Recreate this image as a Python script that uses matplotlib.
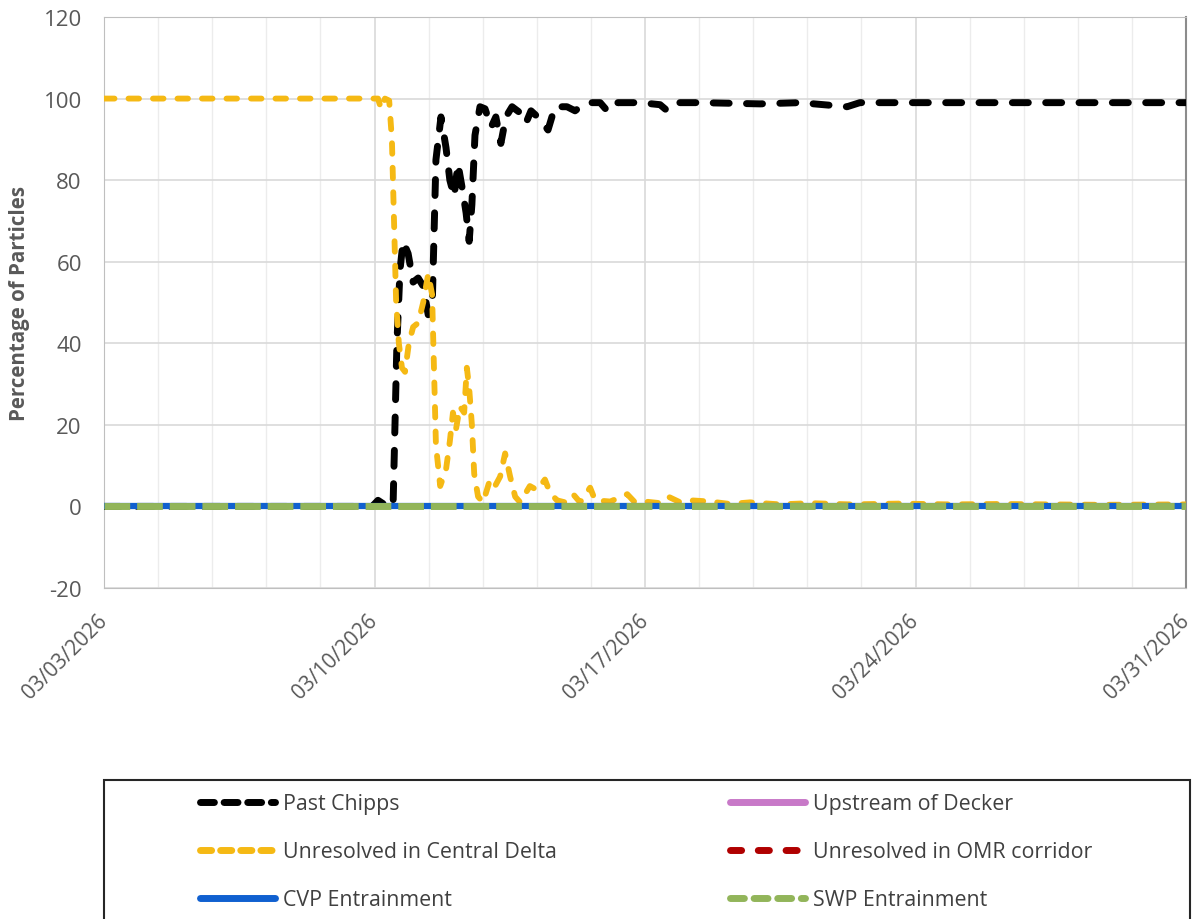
import matplotlib
matplotlib.use('Agg')
import numpy as np
import pandas as pd
import matplotlib.pyplot as plt
import matplotlib.dates as mdates
from matplotlib.lines import Line2D
from matplotlib.patches import Rectangle

plt.rcParams['axes.unicode_minus'] = False

# start of the run and the date labels
start = pd.Timestamp('2026-03-03')
tick_dates = ['2026-03-03', '2026-03-10', '2026-03-17', '2026-03-24', '2026-03-31']

# Past Chipps (day offset from start, percent)
chipps_day = [0, 6.94, 7.09, 7.25, 7.40, 7.48, 7.58, 7.66, 7.74, 7.87, 8.00, 8.13, 8.26,
              8.39, 8.49, 8.59, 8.72, 8.85, 8.95, 9.06, 9.16, 9.27, 9.37, 9.45, 9.52,
              9.60, 9.73, 9.86, 10.02, 10.14, 10.27, 10.40, 10.56, 10.77, 10.92, 11.05,
              11.28, 11.49, 11.67, 11.98, 12.19, 12.40, 12.60, 12.84, 13.04, 13.30,
              13.87, 14.39, 14.54, 14.73, 15.42, 16.98, 18.01, 19.23, 19.56, 28]
chipps_pct = [0, 0, 1.5, 0.5, 0.3, 0, 40, 58, 65, 62, 55, 56, 54,
              47, 48, 85, 95.5, 88, 80, 76, 84, 78, 72, 65, 74,
              91, 98, 97.5, 93, 95.5, 89, 95.5, 98, 96.5, 94, 97,
              95, 92.3, 98, 98, 97, 98.5, 99, 99, 96.8, 99,
              99, 98.5, 97.3, 99, 99, 98.7, 99, 98, 99, 99]

# Unresolved in Central Delta
delta_day = [0, 7.09, 7.17, 7.27, 7.38, 7.45, 7.56, 7.63, 7.71, 7.79, 7.89, 8.00, 8.13,
             8.26, 8.39, 8.49, 8.59, 8.70, 8.85, 8.95, 9.03, 9.11, 9.21, 9.32, 9.39,
             9.45, 9.52, 9.58, 9.68, 9.81, 9.99, 10.12, 10.25, 10.38, 10.51, 10.64,
             10.77, 11.02, 11.21, 11.41, 11.54, 11.72, 11.93, 12.14, 12.32, 12.58,
             12.71, 13.10, 13.54, 13.74, 14.00, 14.39, 14.60, 14.91, 15.17, 15.68,
             16.20, 16.72, 17.49, 18.27, 19.31, 20.60, 21.89, 23.19, 25.78, 28]
delta_pct = [100, 100, 97.5, 100, 99.5, 90, 50, 40, 34, 33, 40, 44, 45,
             50, 57, 52, 15, 5, 9, 16, 23, 19, 24.5, 23, 34,
             29, 20, 8, 2.4, 1, 6.6, 5, 7.3, 13, 7.3, 2.4,
             1, 5, 4, 6.6, 3.4, 1.5, 1, 3, 1, 4.6,
             1.5, 1.2, 3, 1, 1.2, 0.8, 2.4, 1, 1.5, 1.2,
             0.6, 1, 0.5, 0.8, 0.5, 0.7, 0.5, 0.6, 0.4, 0.5]

# the other four stay at zero the whole time
flat_day = [0, 28]
decker_pct = [0, 0]
omr_pct = [0, 0]
cvp_pct = [0, 0]
swp_pct = [0, 0]


def to_dates(days):
    return start + pd.to_timedelta(days, unit='D')


grey = '#595959'
font = ['Open Sans', 'DejaVu Sans']

fig = plt.figure(figsize=(11.92, 9.2), dpi=100)
ax = fig.add_axes([104 / 1192, 1 - 589 / 920, (1186 - 104) / 1192, (589 - 18) / 920])

ax.plot(to_dates(chipps_day), chipps_pct, color='black', lw=5, dashes=(2.3, 2.5),
        dash_capstyle='round', zorder=3)
ax.plot(to_dates(flat_day), decker_pct, color='#c879c8', lw=4, zorder=3.1)
ax.plot(to_dates(delta_day), delta_pct, color='#f5b914', lw=4.2, dashes=(1.8, 2.4),
        dash_capstyle='round', zorder=3.2)
ax.plot(to_dates(flat_day), omr_pct, color='#b00000', lw=4, dashes=(3, 3), zorder=3.3)
ax.plot(to_dates(flat_day), cvp_pct, color='#1060d0', lw=4.5, zorder=3.4)
ax.plot(to_dates(flat_day), swp_pct, color='#92b55a', lw=5, dashes=(3.7, 1.0), zorder=3.5)

x0 = mdates.date2num(start)
ax.set_xlim(x0, x0 + 28)
ax.set_ylim(-20, 120)
ax.set_yticks(np.arange(-20, 121, 20))
ax.set_xticks(mdates.date2num(pd.to_datetime(tick_dates)))
ax.set_xticks(x0 + np.arange(0, 28.01, 1.4), minor=True)
ax.xaxis.set_major_formatter(mdates.DateFormatter('%m/%d/%Y'))

ax.grid(True, which='major', color='#d9d9d9', lw=1.2)
ax.grid(True, which='minor', axis='x', color='#ececec', lw=1)
ax.set_axisbelow(True)
ax.tick_params(which='both', length=0)
ax.tick_params(axis='y', pad=16, labelsize=16, labelcolor=grey)
ax.tick_params(axis='x', pad=21, labelsize=15, labelcolor=grey)
for lab in ax.get_yticklabels():
    lab.set_family(font)
for lab in ax.get_xticklabels():
    lab.set_family(font)
    lab.set_rotation(45)
    lab.set_ha('right')
    lab.set_va('center')
    lab.set_rotation_mode('anchor')

for side in ['left', 'bottom', 'top']:
    ax.spines[side].set_color('#bfbfbf')
ax.spines['right'].set_color('#8c8c8c')
ax.spines['right'].set_linewidth(1.5)

ax.set_ylabel('Percentage of Particles', fontsize=14.8, fontweight='bold', color=grey,
              family=font, labelpad=10)

# legend box running off the bottom of the figure
fig.add_artist(Rectangle((104 / 1192, -0.02), (1190 - 104) / 1192, 1 - 781 / 920 + 0.02,
                         transform=fig.transFigure, fill=False, ec='#262626', lw=1.5))

left_handles = [
    Line2D([], [], color='black', lw=5, dashes=(2.0, 1.4), dash_capstyle='round'),
    Line2D([], [], color='#f5b914', lw=5, dashes=(1.6, 1.3), dash_capstyle='round'),
    Line2D([], [], color='#1060d0', lw=5, solid_capstyle='round'),
]
right_handles = [
    Line2D([], [], color='#c879c8', lw=5, solid_capstyle='round'),
    Line2D([], [], color='#b00000', lw=5, dashes=(1.6, 2.4), dash_capstyle='round'),
    Line2D([], [], color='#92b55a', lw=5, dashes=(2.0, 1.4), dash_capstyle='round'),
]
leg_kw = dict(loc='upper left', frameon=False, borderpad=0, borderaxespad=0,
              handlelength=3.5, handletextpad=0.4, labelspacing=1.27,
              prop={'family': font, 'size': 15.4}, labelcolor='#404040')
fig.legend(left_handles, ['Past Chipps', 'Unresolved in Central Delta', 'CVP Entrainment'],
           bbox_to_anchor=(200 / 1192, 1 - 794 / 920), **leg_kw)
fig.legend(right_handles, ['Upstream of Decker', 'Unresolved in OMR corridor', 'SWP Entrainment'],
           bbox_to_anchor=(730 / 1192, 1 - 794 / 920), **leg_kw)

fig.savefig('out.png', dpi=100)
